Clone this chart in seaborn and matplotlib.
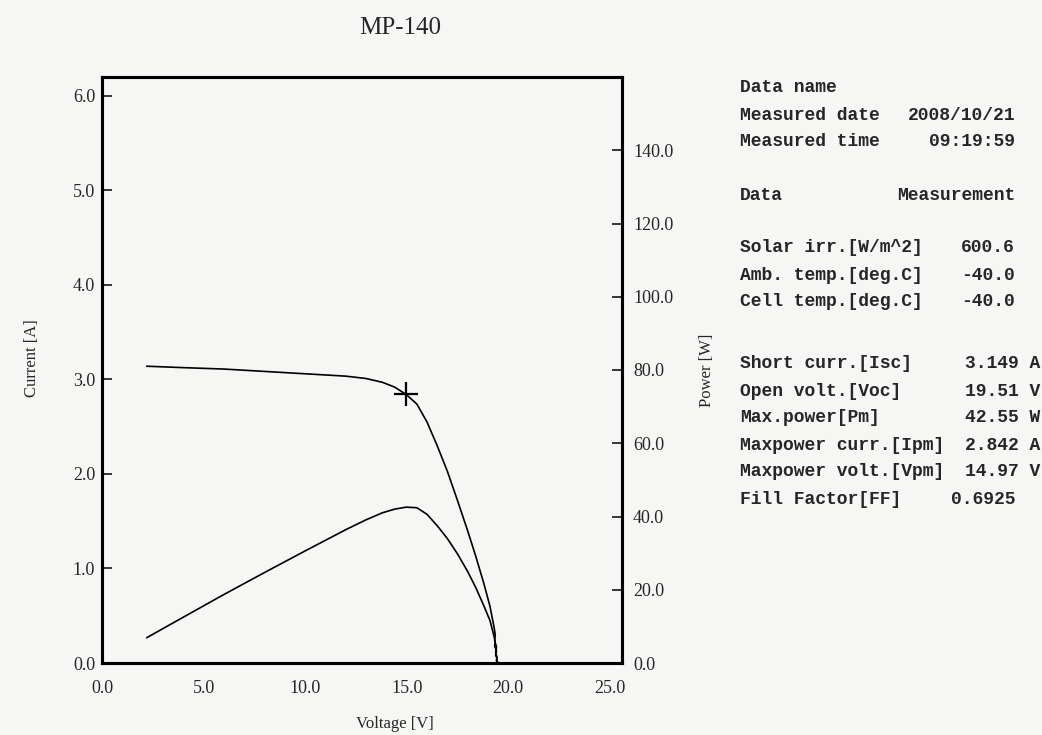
import numpy as np
import pandas as pd
import matplotlib
matplotlib.use("Agg")
import matplotlib.pyplot as plt
import seaborn as sns

# I-V and P-V readings of the module
voltage = [2.2, 4.0, 6.0, 8.0, 10.0, 12.0, 13.0, 13.8, 14.4, 14.97, 15.5, 16.0,
           16.5, 17.0, 17.5, 18.0, 18.4, 18.8, 19.1, 19.3, 19.36, 19.33, 19.42,
           19.38, 19.45, 19.42, 19.51, 19.7]
current = [3.14, 3.125, 3.11, 3.085, 3.06, 3.035, 3.01, 2.97, 2.92, 2.842, 2.74, 2.55,
           2.30, 2.03, 1.72, 1.40, 1.13, 0.84, 0.60, 0.38, 0.30, 0.24, 0.17,
           0.11, 0.06, 0.03, 0.0, 0.0]
power = [6.9, 12.5, 18.7, 24.7, 30.6, 36.4, 39.1, 41.0, 42.0, 42.55, 42.4, 40.6,
         37.5, 34.0, 29.8, 25.0, 20.6, 15.6, 11.6, 7.3, 5.8, 4.6, 3.3,
         2.1, 1.2, 0.6, 0.0, 0.0]

v_mp = 14.97
i_mp = 2.842

x_ticks = [0, 5, 10, 15, 20, 25]
i_ticks = [0, 1, 2, 3, 4, 5, 6]
p_ticks = [0, 20, 40, 60, 80, 100, 120, 140]

# (label, value, row y in pixels)
info_rows = [
    ("Data name", "", 88),
    ("Measured date", "2008/10/21", 115),
    ("Measured time", "09:19:59", 142),
    ("Data", "Measurement", 196),
    ("Solar irr.[W/m^2]", "600.6", 248),
    ("Amb. temp.[deg.C]", "-40.0", 275),
    ("Cell temp.[deg.C]", "-40.0", 302),
    ("Short curr.[Isc]", "3.149 A", 364),
    ("Open volt.[Voc]", "19.51 V", 391),
    ("Max.power[Pm]", "42.55 W", 418),
    ("Maxpower curr.[Ipm]", "2.842 A", 445),
    ("Maxpower volt.[Vpm]", "14.97 V", 472),
    ("Fill Factor[FF]", "0.6925", 499),
]

df = pd.DataFrame({"voltage": voltage, "current": current, "power": power})

sns.set_style("white")
plt.rcParams["font.family"] = ["Liberation Serif", "DejaVu Serif"]
bg = "#f6f6f4"

fig = plt.figure(figsize=(10.42, 7.35), dpi=100, facecolor=bg)
ax = fig.add_axes([102 / 1042, 1 - 663 / 735, 520 / 1042, 586 / 735])
ax.set_facecolor(bg)

sns.lineplot(data=df, x="voltage", y="current", ax=ax, color="black",
             linewidth=1.2, sort=False, estimator=None)
ax.plot([v_mp], [i_mp], marker="+", markersize=17, markeredgewidth=1.6,
        color="black", linestyle="none")

ax.set_xlim(0, 25.6)
ax.set_ylim(0, 6.2)
ax.set_xticks(x_ticks)
ax.set_xticklabels([f"{t:.1f}" for t in x_ticks])
ax.set_yticks(i_ticks)
ax.set_yticklabels([f"{t:.1f}" for t in i_ticks])

ax2 = ax.twinx()
sns.lineplot(data=df, x="voltage", y="power", ax=ax2, color="black",
             linewidth=1.2, sort=False, estimator=None)
ax2.set_ylim(0, 160)
ax2.set_yticks(p_ticks)
ax2.set_yticklabels([f"{t:.1f}" for t in p_ticks])

for a in (ax, ax2):
    for s in a.spines.values():
        s.set_linewidth(2.2)
        s.set_color("black")
        s.set_visible(True)

ax.tick_params(axis="x", direction="in", length=7, width=1.3, pad=12,
               labelsize=13, top=False)
ax.tick_params(axis="y", direction="in", length=7, width=1.3, pad=5,
               labelsize=13, right=False)
ax2.tick_params(axis="y", direction="in", length=7, width=1.3, pad=8,
                labelsize=13)

ax.set_xlabel("Voltage [V]", fontsize=12)
ax.set_ylabel("Current [A]", fontsize=12)
ax2.set_ylabel("Power [W]", fontsize=12)
ax.xaxis.set_label_coords(0.563, -0.09)
ax.yaxis.set_label_coords(-0.12, 0.52)
ax2.yaxis.set_label_coords(1.148, 0.5)

fig.text(400 / 1042, 1 - 28 / 735, "MP-140", ha="center", va="center",
         fontsize=18)

# measurement panel
for label, value, y in info_rows:
    fig.text(740 / 1042, 1 - y / 735, label, ha="left", va="center",
             family="Liberation Mono", fontsize=13, fontweight="bold")
    if value:
        right = 1040 if value[-1] in "AVW" else 1015
        fig.text(right / 1042, 1 - y / 735, value, ha="right", va="center",
                 family="Liberation Mono", fontsize=13, fontweight="bold")

fig.savefig("out.png", dpi=100, facecolor=bg)
